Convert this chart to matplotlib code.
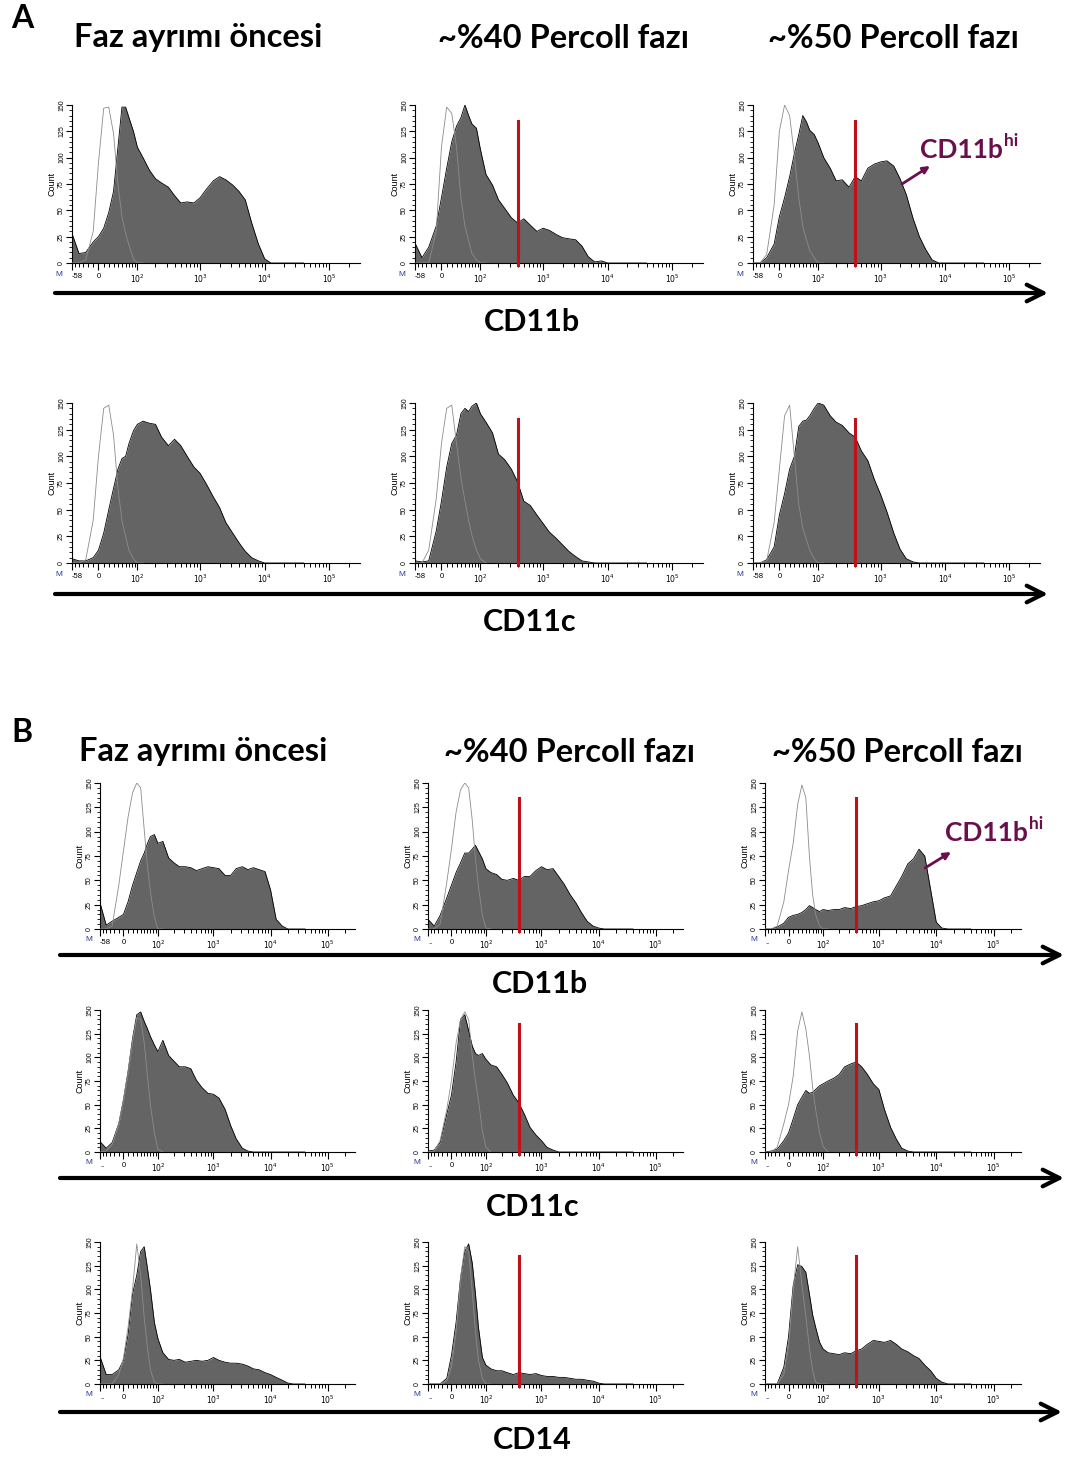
import numpy as np
import matplotlib.pyplot as plt
from matplotlib.ticker import FixedLocator, FixedFormatter

plt.rcParams['font.family'] = ['Liberation Sans', 'DejaVu Sans']

# bin centres on the fluorescence axis, shared by every histogram
fl = [-58, -40, -25, -10, 0, 10, 20, 30, 40, 50, 60, 70, 85, 100, 125, 160, 200, 250,
      320, 400, 500, 630, 800, 1000, 1250, 1600, 2000, 2500, 3200, 4000, 5000, 6300,
      8000, 10000, 12500, 16000, 20000, 25000, 32000, 40000]

# stained samples (grey histograms), counts per bin
a_cd11b_pre = [28, 9, 10, 20, 25, 33, 48, 68, 110, 148, 148, 138, 125, 110, 100, 88, 80, 76, 72, 64,
               57, 58, 57, 62, 70, 78, 82, 79, 74, 68, 60, 38, 18, 4, 0, 0, 0, 0, 0, 0]
a_cd11b_40 = [19, 5, 15, 35, 62, 90, 115, 130, 138, 150, 140, 132, 128, 108, 84, 74, 60, 52, 43, 38,
              42, 36, 30, 33, 31, 27, 24, 23, 22, 16, 6, 1, 2, 0, 0, 0, 0, 0, 0, 0]
a_cd11b_50 = [0, 0, 5, 18, 44, 62, 82, 104, 122, 140, 134, 126, 122, 114, 100, 90, 78, 79, 72, 82,
              78, 90, 94, 96, 97, 92, 80, 65, 42, 25, 13, 3, 0, 0, 0, 0, 0, 0, 0, 0]
a_cd11c_pre = [4, 2, 2, 5, 12, 28, 50, 70, 88, 98, 100, 112, 124, 130, 133, 131, 130, 118, 110, 116,
               110, 100, 90, 84, 74, 62, 52, 38, 28, 19, 11, 5, 2, 0, 0, 0, 0, 0, 0, 0]
a_cd11c_40 = [2, 1, 2, 30, 58, 90, 112, 120, 140, 145, 142, 147, 150, 140, 132, 122, 102, 97, 88, 76,
              58, 54, 45, 37, 29, 23, 17, 11, 6, 2, 1, 0, 0, 0, 0, 0, 0, 0, 0, 0]
a_cd11c_50 = [0, 0, 3, 15, 45, 65, 88, 100, 128, 133, 134, 138, 145, 150, 148, 138, 132, 129, 122, 118,
              105, 96, 78, 64, 48, 28, 13, 4, 1, 0, 0, 0, 0, 0, 0, 0, 0, 0, 0, 0]
b_cd11b_pre = [27, 4, 8, 12, 15, 28, 45, 58, 70, 78, 88, 95, 97, 88, 90, 73, 68, 64, 64, 63,
               60, 62, 64, 63, 62, 55, 55, 62, 64, 61, 63, 61, 59, 40, 10, 3, 0, 0, 0, 0]
b_cd11b_40 = [10, 3, 14, 32, 45, 58, 68, 78, 78, 82, 86, 80, 72, 62, 58, 56, 51, 50, 52, 50,
              54, 54, 60, 64, 61, 62, 54, 46, 35, 27, 17, 8, 3, 1, 0, 0, 0, 0, 0, 0]
b_cd11b_50 = [0, 0, 2, 6, 12, 14, 15, 17, 20, 24, 22, 20, 18, 20, 19, 20, 20, 22, 21, 23,
              24, 26, 28, 29, 32, 34, 44, 54, 67, 72, 82, 75, 40, 7, 1, 0, 0, 0, 0, 0]
b_cd11c_pre = [11, 4, 10, 30, 55, 85, 120, 145, 148, 138, 130, 122, 113, 106, 118, 102, 96, 90, 90, 88,
               76, 68, 62, 61, 57, 45, 28, 14, 4, 1, 0, 0, 0, 0, 0, 0, 0, 0, 0, 0]
b_cd11c_40 = [1, 2, 10, 40, 60, 95, 140, 145, 128, 112, 104, 102, 104, 98, 92, 90, 82, 73, 60, 52,
              40, 26, 18, 12, 5, 2, 0, 0, 0, 0, 0, 0, 0, 0, 0, 0, 0, 0, 0, 0]
b_cd11c_50 = [0, 1, 3, 12, 20, 35, 50, 58, 65, 62, 63, 66, 70, 72, 75, 78, 82, 90, 93, 95,
              90, 82, 72, 66, 45, 26, 14, 4, 1, 0, 0, 0, 0, 0, 0, 0, 0, 0, 0, 0]
b_cd14_pre = [29, 10, 10, 15, 25, 52, 95, 115, 140, 145, 122, 100, 65, 48, 33, 26, 25, 26, 23, 24,
              25, 24, 25, 28, 25, 23, 22, 22, 21, 19, 16, 15, 12, 10, 7, 4, 1, 0, 0, 0]
b_cd14_40 = [0, 0, 0, 6, 30, 65, 112, 140, 148, 128, 95, 60, 28, 20, 16, 14, 14, 12, 10, 12,
             11, 10, 11, 9, 8, 8, 7, 7, 6, 5, 5, 4, 3, 1, 0, 0, 0, 0, 0, 0]
b_cd14_50 = [0, 0, 0, 18, 50, 104, 126, 124, 118, 95, 73, 60, 44, 37, 33, 32, 31, 33, 32, 35,
             37, 42, 46, 45, 44, 46, 42, 37, 34, 30, 27, 20, 14, 6, 2, 0, 0, 0, 0, 0]

# isotype controls (open outlines), counts for the first 15 bins
a_cd11b_pre_c = [0, 0, 3, 30, 95, 147, 148, 123, 75, 44, 28, 17, 4, 0, 0]
a_cd11b_40_c = [0, 0, 0, 30, 110, 148, 142, 110, 62, 35, 21, 9, 3, 0, 0]
a_cd11b_50_c = [0, 0, 8, 55, 125, 150, 140, 102, 62, 35, 22, 12, 5, 0, 0]
a_cd11c_pre_c = [0, 0, 3, 40, 100, 145, 148, 120, 70, 40, 25, 12, 4, 0, 0]
a_cd11c_40_c = [0, 0, 12, 60, 112, 145, 148, 112, 80, 58, 40, 26, 12, 4, 0]
a_cd11c_50_c = [0, 0, 2, 38, 88, 138, 148, 100, 55, 33, 22, 12, 4, 0, 0]
b_cd11b_pre_c = [0, 0, 3, 45, 80, 115, 140, 150, 145, 102, 64, 38, 12, 0, 0]
b_cd11b_40_c = [0, 0, 5, 48, 82, 120, 143, 150, 145, 112, 72, 44, 14, 1, 0]
b_cd11b_50_c = [0, 0, 3, 28, 60, 88, 128, 148, 135, 75, 35, 15, 3, 0, 0]
b_cd11c_pre_c = [0, 1, 8, 30, 55, 85, 118, 142, 140, 115, 80, 50, 20, 3, 0]
b_cd11c_40_c = [0, 1, 12, 45, 75, 115, 140, 148, 140, 102, 75, 55, 22, 5, 0]
b_cd11c_50_c = [0, 0, 5, 30, 50, 80, 128, 148, 130, 102, 68, 45, 20, 6, 0]
b_cd14_pre_c = [0, 0, 0, 10, 27, 60, 100, 148, 115, 70, 38, 15, 2, 0, 0]
b_cd14_40_c = [0, 0, 0, 3, 18, 55, 112, 145, 140, 98, 55, 25, 6, 0, 0]
b_cd14_50_c = [0, 0, 0, 10, 40, 100, 145, 105, 72, 38, 14, 2, 0, 0, 0]

GATE = 400        # CD11b/CD11c/CD14 "hi" gate
GATE_TOP = 135

titles = ['Faz ayrımı öncesi', '~%40 Percoll fazı', '~%50 Percoll fazı']
markers = ['CD11b', 'CD11c', 'CD11b', 'CD11c', 'CD14']

xticks = [-58, 0, 100, 1000, 10000, 100000]
xticklabels_A = ['-58', '0', '$10^2$', '$10^3$', '$10^4$', '$10^5$']
xticklabels_B = ['..', '0', '$10^2$', '$10^3$', '$10^4$', '$10^5$']
yticks = [0, 25, 50, 75, 100, 125, 150]

GREY = '#646464'
RED = '#c0101a'
PURPLE = '#6b0f4c'

W, H = 1066, 1459
fig = plt.figure(figsize=(W / 100, H / 100), dpi=100)


def fwd(x):
    return np.arcsinh(np.asarray(x, dtype=float) / 53.2) / np.log(10)


def inv(y):
    return 53.2 * np.sinh(np.asarray(y, dtype=float) * np.log(10))


minor_x = [-50, -40, -30, -20, -10] + list(range(10, 100, 10)) + \
          [k * 10 ** e for e in (2, 3, 4) for k in range(2, 10)] + [200000]


def histo(box, grey, ctrl, gate, xlabels):
    l, r, t, b = box
    ax = fig.add_axes([l / W, 1 - b / H, (r - l) / W, (b - t) / H])
    ax.set_xscale('function', functions=(fwd, inv))
    ax.fill_between(fl, grey, 0, color=GREY, lw=0, zorder=2)
    ax.plot(fl, grey, color='black', lw=0.6, zorder=3)
    ax.plot(fl[:len(ctrl)], ctrl, color='#8c8c8c', lw=0.6, zorder=4)
    if gate:
        ax.plot([GATE, GATE], [-2, GATE_TOP], color=RED, lw=2.2, zorder=5, clip_on=False)
    ax.set_xlim(-58, 3e5)
    ax.set_ylim(0, 150)
    for s in ('top', 'right'):
        ax.spines[s].set_visible(False)
    for s in ('left', 'bottom'):
        ax.spines[s].set_linewidth(0.8)
    ax.xaxis.set_major_locator(FixedLocator(xticks))
    ax.xaxis.set_major_formatter(FixedFormatter(xlabels))
    ax.xaxis.set_minor_locator(FixedLocator(minor_x))
    ax.yaxis.set_major_locator(FixedLocator(yticks))
    ax.yaxis.set_minor_locator(FixedLocator(list(range(0, 151, 5))))
    ax.tick_params(axis='x', which='major', length=5, width=0.8, labelsize=5.5, pad=2)
    ax.tick_params(axis='x', which='minor', length=3, width=0.7)
    ax.tick_params(axis='y', which='major', length=4, width=0.8, labelsize=5, pad=1,
                   labelrotation=90)
    ax.tick_params(axis='y', which='minor', length=2, width=0.6)
    for lbl in ax.get_yticklabels():
        lbl.set_va('center')
    ax.get_xticklabels()[0].set_ha('left')
    ax.get_xticklabels()[0].set_va('top')
    ax.set_ylabel('Count', fontsize=6.5, labelpad=1)
    ax.text(-0.045, -0.075, 'M', transform=ax.transAxes, color='#2a3aa0', fontsize=6,
            ha='center', va='center')
    return ax


colsA = [(72, 360), (415, 703), (753, 1040)]
colsB = [(100, 355), (428, 683), (765, 1021)]
rows = [
    (colsA, (105, 263), [a_cd11b_pre, a_cd11b_40, a_cd11b_50], [a_cd11b_pre_c, a_cd11b_40_c, a_cd11b_50_c]),
    (colsA, (403, 563), [a_cd11c_pre, a_cd11c_40, a_cd11c_50], [a_cd11c_pre_c, a_cd11c_40_c, a_cd11c_50_c]),
    (colsB, (783, 929), [b_cd11b_pre, b_cd11b_40, b_cd11b_50], [b_cd11b_pre_c, b_cd11b_40_c, b_cd11b_50_c]),
    (colsB, (1010, 1152), [b_cd11c_pre, b_cd11c_40, b_cd11c_50], [b_cd11c_pre_c, b_cd11c_40_c, b_cd11c_50_c]),
    (colsB, (1242, 1384), [b_cd14_pre, b_cd14_40, b_cd14_50], [b_cd14_pre_c, b_cd14_40_c, b_cd14_50_c]),
]
for ri, (cols, (t, b), greys, ctrls) in enumerate(rows):
    for ci in range(3):
        labels = xticklabels_A if (ri < 2 or (ri == 2 and ci == 0)) else xticklabels_B
        histo((cols[ci][0], cols[ci][1], t, b), greys[ci], ctrls[ci], ci > 0, labels)

# overlay in pixel coordinates for the headings and long axis arrows
ov = fig.add_axes([0, 0, 1, 1], zorder=10)
ov.set_xlim(0, W)
ov.set_ylim(H, 0)
ov.axis('off')
ov.patch.set_alpha(0)

big = dict(family=['Lato', 'DejaVu Sans'], fontweight='bold', ha='center', va='center')
ov.text(22, 18, 'A', fontsize=23, **big)
ov.text(22, 732, 'B', fontsize=23, **big)
for x, s in zip([198, 563, 893], titles):
    ov.text(x, 38, s, fontsize=23.5, **big)
for x, s in zip([203, 570, 897], titles):
    ov.text(x, 752, s, fontsize=23.5, **big)

arrows = [(55, 1048, 293), (55, 1048, 594), (60, 1064, 955), (60, 1064, 1178), (60, 1062, 1412)]
label_pos = [(532, 322), (530, 622), (540, 984), (533, 1207), (532, 1440)]
for (x0, x1, y), (lx, ly), m in zip(arrows, label_pos, markers):
    ov.annotate('', xy=(x1, y), xytext=(x0, y),
                arrowprops=dict(arrowstyle='->', lw=3, color='black', mutation_scale=30,
                                shrinkA=0, shrinkB=0))
    ov.text(lx, ly, m, fontsize=22, **big)

# CD11b-hi call-outs
for (tx, ty), (ax0, ay0), (ax1, ay1) in [((1003, 150), (902, 184), (930, 166)),
                                          ((1028, 833), (925, 868), (951, 852))]:
    ov.text(tx, ty, 'CD11b', fontsize=19, color=PURPLE, family=['Lato', 'DejaVu Sans'],
            fontweight='bold', ha='right', va='center')
    ov.text(tx + 1, ty - 9, 'hi', fontsize=12.5, color=PURPLE, family=['Lato', 'DejaVu Sans'],
            fontweight='bold', ha='left', va='center')
    ov.annotate('', xy=(ax1, ay1), xytext=(ax0, ay0),
                arrowprops=dict(arrowstyle='-|>', lw=2, color=PURPLE, mutation_scale=10,
                                shrinkA=0, shrinkB=0))

fig.savefig('out.png', dpi=100)
